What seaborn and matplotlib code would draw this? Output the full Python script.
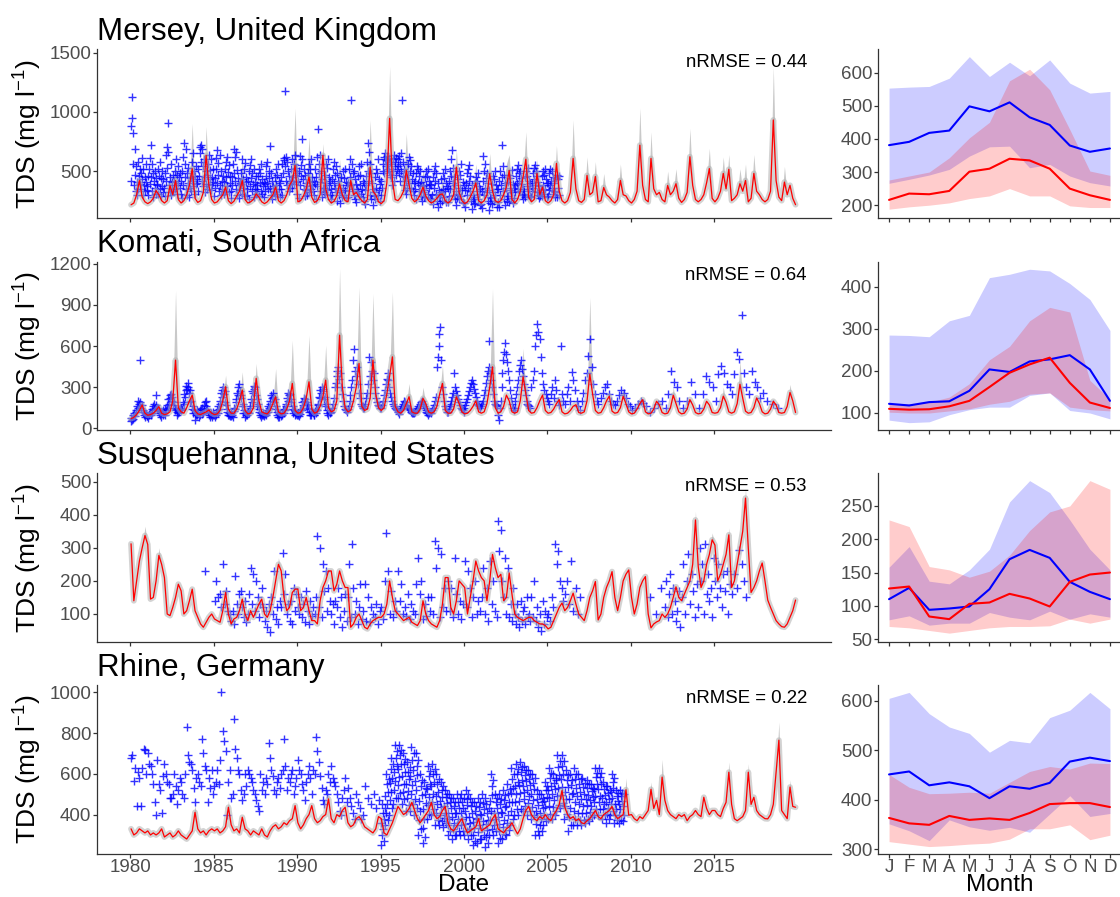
import numpy as np
import pandas as pd
import matplotlib
matplotlib.use("Agg")
import matplotlib.pyplot as plt
import seaborn as sns

sns.set_theme(style="white")
plt.rcParams.update({
    "font.family": ["Liberation Sans", "DejaVu Sans"],
    "mathtext.fontset": "custom",
    "mathtext.rm": "Liberation Sans",
    "mathtext.it": "Liberation Sans:italic",
    "mathtext.bf": "Liberation Sans:bold",
})

# ------------------------------------------------------------------ data
START = 1980
MONTHS = list(range(1, 13))
MONTH_LABELS = ["J", "F", "M", "A", "M", "J", "J", "A", "S", "O", "N", "D"]
YEAR_TICKS = [1980, 1985, 1990, 1995, 2000, 2005, 2010, 2015]

# modelled TDS, one row per year, values for Jan, Mar, May, Jul, Sep, Nov
mersey_model = [
    [215, 230, 300, 420, 280, 240], [225, 240, 270, 335, 300, 250],
    [230, 250, 378, 300, 420, 260], [230, 250, 300, 380, 520, 270],
    [235, 250, 320, 633, 380, 260], [230, 240, 270, 300, 365, 250],
    [225, 245, 290, 330, 420, 260], [230, 240, 260, 307, 280, 240],
    [225, 240, 270, 300, 365, 250], [230, 250, 300, 380, 420, 548],
    [240, 250, 290, 350, 450, 280], [235, 250, 300, 633, 350, 260],
    [230, 245, 290, 392, 300, 250], [240, 420, 300, 320, 280, 250],
    [230, 260, 534, 330, 300, 240], [225, 250, 400, 946, 420, 260],
    [250, 280, 330, 506, 380, 270], [240, 260, 300, 365, 290, 250],
    [230, 245, 270, 300, 307, 250], [230, 250, 300, 534, 320, 250],
    [225, 240, 280, 330, 400, 250], [230, 250, 300, 477, 330, 250],
    [235, 250, 300, 365, 506, 260], [230, 260, 330, 450, 600, 280],
    [240, 260, 480, 300, 365, 250], [230, 250, 300, 565, 330, 250],
    [230, 250, 320, 607, 350, 250], [235, 260, 463, 300, 320, 454],
    [240, 250, 361, 300, 280, 250], [230, 260, 421, 300, 290, 250],
    [230, 260, 330, 719, 380, 260], [240, 607, 350, 300, 320, 260],
    [240, 378, 300, 330, 393, 270], [235, 260, 320, 621, 380, 260],
    [240, 260, 300, 400, 521, 270], [240, 270, 330, 480, 350, 515],
    [250, 270, 300, 393, 330, 420], [240, 270, 480, 330, 300, 260],
    [240, 260, 330, 932, 420, 280], [250, 407, 300, 380, 270, 216],
]
komati_model = [
    [70, 80, 100, 130, 170, 110], [95, 100, 110, 130, 158, 110],
    [100, 105, 120, 200, 497, 150], [120, 110, 150, 200, 242, 130],
    [105, 100, 110, 120, 133, 110], [100, 105, 130, 200, 303, 140],
    [110, 110, 140, 200, 279, 130], [105, 110, 150, 364, 200, 120],
    [110, 105, 130, 180, 230, 120], [105, 110, 140, 200, 327, 130],
    [110, 115, 150, 220, 339, 140], [110, 120, 160, 230, 351, 150],
    [120, 130, 200, 679, 300, 150], [120, 130, 200, 300, 473, 160],
    [130, 140, 220, 497, 250, 150], [130, 150, 250, 380, 521, 160],
    [120, 110, 130, 180, 230, 120], [110, 110, 140, 218, 180, 120],
    [110, 120, 160, 250, 327, 130], [110, 110, 140, 230, 180, 120],
    [105, 110, 130, 160, 200, 120], [110, 120, 180, 300, 448, 150],
    [110, 120, 160, 242, 200, 120], [110, 120, 200, 376, 250, 130],
    [110, 115, 150, 200, 242, 130], [110, 115, 140, 180, 209, 120],
    [105, 110, 130, 160, 172, 115], [110, 120, 200, 395, 250, 130],
    [110, 115, 150, 200, 234, 125], [110, 115, 150, 234, 180, 120],
    [105, 110, 140, 180, 209, 120], [105, 110, 140, 197, 170, 115],
    [105, 110, 150, 241, 180, 120], [105, 110, 140, 209, 170, 115],
    [105, 110, 140, 197, 170, 115], [110, 115, 150, 234, 190, 120],
    [110, 120, 180, 321, 220, 125], [110, 115, 150, 221, 180, 120],
    [105, 110, 140, 197, 170, 115], [110, 115, 160, 261, 200, 115],
]
susq_model = [
    [312, 140, 200, 260, 300, 337], [310, 145, 150, 200, 277, 250],
    [210, 100, 95, 120, 150, 190], [170, 100, 110, 140, 175, 110],
    [90, 70, 60, 75, 90, 100], [85, 80, 75, 110, 165, 100],
    [70, 85, 90, 110, 145, 100], [80, 110, 90, 110, 130, 145],
    [100, 90, 110, 150, 200, 250], [230, 150, 110, 120, 165, 175],
    [175, 110, 120, 150, 110, 80], [80, 70, 140, 180, 200, 230],
    [230, 170, 190, 230, 200, 180], [180, 60, 70, 90, 100, 80],
    [60, 55, 70, 80, 85, 90], [90, 100, 130, 200, 150, 110],
    [100, 90, 80, 85, 90, 75], [70, 65, 80, 140, 100, 80],
    [70, 65, 60, 80, 130, 210], [210, 120, 100, 140, 200, 190],
    [180, 100, 150, 200, 260, 230], [210, 200, 140, 200, 280, 240],
    [210, 220, 140, 150, 224, 160], [100, 90, 85, 80, 85, 90],
    [90, 80, 75, 70, 70, 65], [55, 60, 80, 100, 120, 133],
    [110, 120, 140, 163, 130, 100], [90, 80, 110, 150, 170, 198],
    [82, 100, 150, 180, 200, 228], [150, 110, 150, 200, 220, 233],
    [150, 100, 130, 180, 200, 213], [100, 58, 70, 76, 80, 100],
    [90, 100, 120, 150, 182, 150], [140, 160, 180, 200, 250, 384],
    [243, 180, 200, 250, 280, 324], [308, 200, 220, 250, 280, 339],
    [180, 200, 250, 300, 350, 450], [300, 165, 180, 200, 230, 254],
    [200, 142, 120, 100, 80, 70], [62, 60, 70, 90, 110, 142],
]
rhine_model = [
    [330, 300, 310, 330, 320, 310], [320, 300, 310, 300, 310, 330],
    [290, 300, 310, 290, 300, 320], [300, 290, 280, 300, 320, 411],
    [330, 310, 320, 300, 320, 330], [320, 330, 310, 320, 340, 436],
    [350, 320, 330, 310, 387, 330], [320, 300, 320, 310, 300, 330],
    [300, 290, 320, 340, 350, 330], [340, 360, 350, 370, 380, 444],
    [360, 330, 350, 380, 400, 444], [380, 360, 370, 390, 400, 477],
    [380, 360, 400, 390, 420, 436], [360, 340, 350, 380, 390, 370],
    [340, 330, 320, 310, 330, 390], [380, 310, 300, 330, 360, 400],
    [440, 420, 400, 410, 430, 460], [420, 380, 360, 380, 400, 420],
    [460, 400, 380, 390, 420, 440], [360, 330, 320, 340, 360, 380],
    [340, 310, 320, 330, 340, 380], [320, 330, 340, 350, 380, 400],
    [330, 320, 310, 330, 340, 360], [330, 305, 330, 380, 420, 440],
    [400, 380, 370, 390, 380, 400], [380, 370, 400, 420, 450, 518],
    [436, 400, 380, 390, 370, 380], [360, 355, 370, 380, 400, 420],
    [390, 380, 400, 410, 420, 440], [400, 380, 390, 400, 522, 397],
    [400, 380, 370, 390, 380, 400], [420, 524, 430, 470, 400, 584],
    [470, 420, 400, 390, 380, 400], [390, 400, 370, 390, 400, 420],
    [400, 390, 485, 430, 400, 420], [420, 400, 390, 430, 460, 608],
    [450, 380, 370, 380, 390, 420], [608, 450, 485, 420, 400, 390],
    [380, 379, 400, 450, 608, 765], [420, 400, 380, 535, 440, 436],
]

# ensemble maximum where it departs from the model run: (year, slot, TDS)
mersey_ens_max = [
    (1980, 3, 520), (1982, 2, 500), (1982, 4, 560), (1983, 4, 903), (1984, 3, 875),
    (1985, 4, 480), (1986, 4, 600), (1987, 3, 430), (1988, 4, 500), (1989, 5, 1031),
    (1990, 4, 790), (1991, 3, 733), (1992, 3, 600), (1993, 1, 520), (1994, 2, 932),
    (1995, 3, 1386), (1996, 3, 818), (1997, 3, 520), (1998, 4, 450), (1999, 3, 680),
    (2000, 4, 560), (2001, 3, 650), (2002, 3, 560), (2002, 4, 640), (2003, 4, 832),
    (2004, 2, 600), (2005, 3, 717), (2006, 3, 932), (2007, 2, 620), (2007, 5, 580),
    (2008, 2, 480), (2009, 2, 560), (2010, 3, 1034), (2011, 1, 832), (2012, 1, 500),
    (2012, 4, 520), (2013, 3, 861), (2014, 4, 693), (2015, 3, 620), (2015, 5, 640),
    (2016, 3, 520), (2016, 5, 560), (2017, 2, 640), (2018, 3, 1384), (2019, 1, 540),
]
komati_ens_max = [
    (1982, 4, 1006), (1983, 4, 300), (1985, 4, 388), (1986, 4, 412), (1987, 3, 473),
    (1988, 4, 436), (1989, 4, 642), (1990, 4, 679), (1991, 4, 606), (1992, 3, 1163),
    (1993, 4, 1030), (1994, 3, 982), (1995, 4, 994), (1996, 4, 327), (1997, 3, 300),
    (1998, 4, 460), (1999, 3, 300), (2001, 4, 1018), (2003, 3, 582), (2007, 3, 954),
    (2009, 3, 300), (2012, 3, 300), (2015, 3, 300), (2016, 3, 492), (2019, 3, 320),
]
susq_ens_max = [
    (1980, 5, 365), (1981, 4, 300), (1988, 5, 270), (2013, 5, 410), (2014, 5, 345),
    (2015, 5, 360), (2016, 5, 480),
]
rhine_ens_max = [
    (1983, 5, 450), (1985, 5, 470), (1991, 5, 510), (2009, 4, 580), (2011, 1, 560),
    (2011, 5, 671), (2015, 5, 658), (2017, 0, 650), (2018, 5, 855), (2019, 3, 570),
]

# observed TDS, one row of samples per year
mersey_obs_years = list(range(1980, 2006))
mersey_obs = [
    [420, 880, 1130, 945, 560, 820, 380, 690, 470, 330, 540, 410, 300, 580, 350, 460, 390, 520,
     480, 350, 610, 430, 300, 520, 380, 450, 330, 560, 410, 370],
    [340, 460, 300, 520, 390, 610, 720, 450, 560, 330, 480, 280, 420, 360, 500, 310, 440, 380,
     390, 520, 310, 460, 580, 350, 440, 290, 500, 370, 430, 320],
    [360, 290, 480, 640, 420, 700, 530, 910, 660, 380, 450, 320, 560, 300, 410, 350, 470, 330,
     420, 500, 350, 600, 380, 470, 310, 540, 400, 450, 360, 480],
    [310, 420, 270, 500, 380, 620, 740, 450, 560, 690, 350, 480, 300, 530, 400, 280, 440, 360,
     450, 330, 580, 420, 650, 370, 500, 310, 460, 540, 390, 430],
    [400, 330, 520, 460, 700, 650, 580, 720, 690, 420, 540, 370, 600, 320, 450, 390, 500, 350,
     470, 560, 390, 640, 430, 510, 340, 600, 450, 380, 520, 410],
    [290, 440, 360, 520, 610, 400, 680, 470, 570, 330, 640, 380, 500, 300, 420, 350, 460, 310,
     410, 520, 330, 580, 450, 620, 370, 490, 320, 550, 400, 460],
    [330, 270, 450, 380, 560, 480, 690, 620, 420, 660, 350, 510, 300, 440, 380, 270, 400, 340,
     390, 480, 310, 600, 430, 520, 360, 570, 290, 450, 410, 350],
    [300, 420, 260, 500, 370, 550, 440, 600, 330, 480, 390, 520, 280, 410, 350, 460, 310, 380,
     350, 460, 290, 520, 400, 480, 330, 560, 310, 430, 370, 410],
    [280, 390, 330, 460, 540, 400, 580, 350, 500, 440, 710, 360, 480, 300, 420, 260, 370, 320,
     330, 450, 290, 520, 380, 470, 310, 560, 350, 420, 280, 400],
    [350, 450, 300, 560, 480, 610, 590, 1180, 540, 620, 420, 580, 380, 500, 330, 460, 400, 360,
     420, 520, 360, 600, 450, 560, 390, 640, 470, 530, 410, 480],
    [310, 420, 270, 500, 380, 630, 550, 460, 600, 770, 430, 520, 350, 470, 290, 400, 340, 300,
     370, 480, 320, 560, 410, 520, 350, 600, 380, 450, 330, 420],
    [300, 390, 520, 260, 450, 620, 370, 860, 560, 480, 640, 410, 330, 500, 280, 430, 360, 320,
     360, 470, 310, 560, 400, 530, 340, 600, 380, 450, 300, 420],
    [260, 350, 430, 300, 520, 400, 580, 470, 360, 540, 320, 480, 250, 420, 300, 380, 230, 340,
     320, 450, 280, 500, 360, 440, 300, 520, 340, 410, 270, 380],
    [280, 400, 330, 520, 450, 600, 1100, 380, 560, 480, 350, 500, 300, 430, 260, 390, 240, 350,
     330, 460, 290, 540, 380, 470, 310, 560, 350, 420, 280, 400],
    [250, 340, 220, 460, 380, 580, 500, 740, 660, 420, 560, 300, 480, 260, 400, 210, 350, 290,
     320, 450, 260, 520, 360, 480, 300, 600, 340, 430, 250, 390],
    [300, 420, 360, 500, 560, 620, 480, 650, 600, 540, 590, 630, 520, 560, 610, 500, 580, 470,
     450, 560, 380, 600, 500, 640, 420, 580, 540, 610, 470, 520],
    [540, 600, 480, 630, 560, 420, 650, 500, 1100, 460, 580, 380, 520, 340, 450, 310, 420, 360,
     470, 560, 400, 620, 500, 590, 360, 540, 430, 480, 330, 400],
    [300, 420, 350, 480, 260, 540, 400, 520, 330, 460, 380, 500, 290, 410, 250, 370, 320, 280,
     340, 450, 280, 500, 380, 460, 310, 520, 360, 420, 270, 390],
    [260, 380, 300, 450, 220, 500, 360, 540, 420, 310, 480, 250, 400, 200, 340, 280, 230, 300,
     320, 430, 250, 480, 350, 440, 280, 520, 330, 400, 240, 370],
    [240, 360, 290, 420, 500, 350, 600, 460, 680, 400, 530, 300, 450, 260, 380, 210, 330, 270,
     310, 430, 260, 500, 360, 470, 290, 560, 340, 410, 240, 380],
    [230, 340, 200, 400, 300, 480, 360, 520, 420, 550, 330, 460, 250, 380, 180, 300, 260, 220,
     280, 400, 230, 450, 330, 420, 260, 480, 310, 370, 210, 350],
    [220, 330, 190, 630, 420, 300, 500, 360, 560, 440, 320, 480, 250, 400, 170, 340, 230, 280,
     270, 390, 220, 460, 320, 430, 250, 500, 300, 380, 200, 350],
    [240, 350, 200, 420, 300, 500, 380, 720, 450, 540, 330, 470, 260, 400, 210, 360, 290, 250,
     290, 410, 240, 470, 340, 440, 270, 510, 320, 390, 230, 360],
    [270, 380, 320, 460, 400, 520, 350, 550, 480, 420, 500, 330, 440, 300, 390, 260, 350, 310,
     330, 450, 280, 500, 370, 460, 300, 530, 350, 420, 290, 400],
    [280, 400, 330, 480, 360, 530, 430, 550, 380, 500, 320, 460, 300, 410, 270, 370, 320, 290,
     340, 460, 290, 500, 380, 470, 310, 520, 350, 430, 280, 400],
    [290, 400, 340, 480, 380, 520, 420, 500, 360, 450, 310, 400, 330, 280,
     320, 440, 280, 470, 360, 430, 300, 460],
]
komati_obs_years = list(range(1980, 2019))
komati_obs = [
    [50, 75, 60, 95, 70, 110, 90, 130, 120, 160, 150, 200, 180, 190, 500, 150, 170, 120, 130, 95, 110, 85, 105, 90],
    [90, 75, 105, 95, 120, 100, 140, 115, 160, 130, 180, 150, 240, 170, 140, 150, 110, 125, 95, 110, 80, 120, 100, 130],
    [120, 100, 140, 130, 170, 150, 210, 180, 240, 220, 250, 200, 230, 170, 190, 150, 130, 140, 100, 120, 110, 140, 120, 150],
    [130, 150, 140, 190, 180, 250, 230, 280, 310, 290, 330, 300, 260, 280, 190, 200, 140, 160, 110, 130, 60, 110, 100, 130],
    [100, 120, 85, 130, 95, 140, 105, 150, 115, 170, 130, 190, 200, 160, 140, 120, 100, 115, 85, 110, 95, 80, 120, 100],
    [100, 85, 115, 95, 130, 110, 160, 140, 200, 180, 260, 230, 280, 300, 250, 270, 190, 170, 120, 140, 95, 115, 100, 90],
    [90, 110, 100, 85, 125, 150, 140, 190, 210, 260, 240, 300, 320, 270, 240, 220, 160, 180, 110, 130, 85, 110, 95, 120],
    [100, 120, 115, 160, 150, 210, 190, 270, 260, 310, 290, 300, 240, 210, 160, 180, 120, 140, 95, 110, 80, 100, 115, 95],
    [90, 105, 115, 95, 130, 120, 160, 150, 200, 180, 240, 220, 260, 230, 190, 210, 140, 160, 100, 120, 85, 105, 80, 110],
    [90, 110, 100, 130, 115, 140, 130, 180, 160, 220, 200, 260, 240, 250, 190, 210, 140, 160, 110, 130, 95, 125, 105, 100],
    [100, 115, 90, 130, 105, 140, 130, 190, 170, 220, 200, 210, 180, 190, 150, 170, 120, 140, 100, 120, 95, 125, 110, 100],
    [100, 125, 110, 140, 135, 180, 170, 230, 220, 280, 260, 300, 270, 290, 210, 230, 160, 180, 110, 130, 95, 135, 120, 110],
    [120, 150, 180, 220, 300, 330, 380, 420, 450, 360, 400, 300, 250, 200, 160, 140, 130, 120],
    [140, 160, 200, 240, 300, 350, 500, 580, 420, 380, 450, 320, 260, 220, 180, 160, 160, 150],
    [150, 180, 220, 260, 320, 520, 380, 480, 420, 350, 400, 300, 260, 220, 190, 170, 160, 150],
    [150, 170, 200, 240, 280, 320, 360, 400, 350, 300, 260, 230, 200, 180, 160, 150, 140, 130],
    [120, 105, 130, 150, 140, 160, 180, 200, 190, 170, 160, 150, 140, 130, 120, 110, 120, 110],
    [110, 120, 130, 145, 160, 150, 175, 190, 200, 180, 160, 150, 130, 120, 110, 100, 110, 120],
    [110, 130, 150, 170, 200, 230, 450, 520, 600, 690, 740, 500, 300, 250, 200, 160, 140, 120],
    [120, 140, 160, 180, 200, 230, 260, 400, 300, 270, 240, 210, 190, 170, 150, 140, 130, 120],
    [150, 170, 190, 210, 240, 270, 300, 330, 350, 320, 290, 260, 230, 200, 180, 170, 160, 150],
    [160, 180, 200, 240, 280, 330, 380, 420, 450, 640, 400, 350, 300, 250, 200, 180, 170, 160],
    [100, 60, 150, 200, 300, 400, 500, 560, 620, 540, 480, 420, 350, 280, 220, 180, 150, 130],
    [150, 200, 250, 300, 350, 420, 460, 500, 430, 380, 320, 280, 240, 200, 180, 170, 160, 150],
    [300, 350, 420, 600, 680, 760, 700, 650, 520, 400, 320, 280, 250, 220],
    [200, 180, 250, 300, 220, 350, 280, 200, 170, 600, 250, 200],
    [180, 250, 300, 200, 410, 350, 280, 200, 160, 130],
    [200, 260, 350, 400, 530, 650, 450, 320, 250, 200],
    [180, 220, 260, 300, 320, 250, 200, 180],
    [170, 200, 240, 280, 260, 220, 180, 160],
    [130, 150, 180, 200, 185, 160],
    [120, 150, 180, 200],
    [150, 250, 420, 335, 300, 200],
    [150, 200, 335, 250],
    [150, 250, 382, 335, 300],
    [200, 394, 456, 400, 320, 300],
    [250, 394, 554, 505, 825, 406, 300],
    [250, 420, 335, 298, 224, 260],
    [197, 180, 150],
]
susq_obs_years = list(range(1984, 2007)) + list(range(2011, 2017))
susq_obs = [
    [230],
    [140, 200, 150, 160, 120, 250, 130, 170, 110, 100],
    [80, 110, 70, 215, 130, 100, 160, 170, 120, 90, 140, 75],
    [100, 160, 240, 130, 220, 110, 200, 150, 90, 130, 180, 120],
    [80, 110, 60, 130, 45, 150, 100, 230, 85, 120, 70, 140],
    [120, 285, 160, 220, 100, 130, 80, 140, 70, 180, 110, 160],
    [120, 100, 150, 90, 130, 75, 170, 110, 70, 140, 95, 120],
    [100, 150, 335, 120, 300, 90, 250, 170, 230, 110, 180, 140],
    [100, 130, 70, 140, 120, 180, 90, 150, 60, 110, 160, 80],
    [150, 250, 90, 310, 180, 100, 140, 70, 120, 190, 85, 110],
    [190, 80, 150, 75, 120, 100, 90, 130, 70, 110],
    [120, 85, 200, 345, 230, 100, 170, 90, 140, 110],
    [230, 140, 190, 100, 120, 95, 160, 85, 130, 110],
    [100, 190, 270, 160, 200, 85, 130, 95, 150, 110],
    [150, 100, 320, 240, 300, 90, 280, 120, 180, 110],
    [200, 110, 180, 90, 270, 160, 100, 140, 85, 130],
    [260, 120, 230, 180, 90, 150, 200, 100, 140, 110],
    [150, 240, 100, 180, 80, 260, 130, 200, 110, 90],
    [380, 290, 355, 200, 150, 270, 100, 240, 90, 130, 80, 180],
    [100, 70, 130, 90, 60, 140, 80, 110, 120, 70, 150, 90, 100, 80],
    [150, 90, 200, 80, 120, 60, 100, 50, 140, 70, 110, 90],
    [100, 80, 150, 120, 310, 250, 290, 200, 180, 140],
    [160, 200, 130, 260, 110, 180, 100, 150],
    [150, 100, 180],
    [120, 200, 90, 160, 220, 100, 180, 140, 80, 110, 170, 60],
    [150, 250, 100, 200, 280, 130, 220, 170, 90, 190],
    [120, 300, 200, 250, 100, 310, 160, 220, 140, 180, 90, 270],
    [200, 150, 250, 180, 120, 220, 170, 230, 100, 190],
    [160, 220, 180, 293, 250, 200, 150],
]
rhine_obs_years = list(range(1980, 1995))
rhine_obs = [
    [680, 690, 565, 630, 440, 610, 580, 440, 630, 720, 715, 600],
    [700, 650, 640, 600, 550, 460, 400, 670, 550, 520, 410, 590],
    [650, 600, 560, 550, 480, 480, 500, 600, 540, 450, 520, 580],
    [560, 500, 480, 600, 830, 690, 660, 650, 620, 530, 460, 580],
    [600, 560, 540, 770, 700, 640, 620, 460, 580, 530, 620, 500],
    [540, 560, 620, 550, 670, 1000, 810, 760, 710, 400, 560, 620],
    [480, 500, 870, 720, 680, 620, 600, 520, 470, 500, 600, 540],
    [620, 600, 580, 560, 520, 500, 470, 440, 420, 600, 520, 560],
    [500, 580, 550, 750, 680, 620, 590, 520, 500, 560, 580, 530],
    [600, 620, 770, 640, 520, 580, 560, 600, 620, 500, 540, 580],
    [670, 620, 600, 550, 520, 470, 560, 600, 640, 580, 500, 620],
    [600, 780, 710, 660, 590, 530, 470, 450, 520, 500, 600, 560],
    [640, 580, 560, 540, 500, 460, 420, 400, 480, 520, 580, 460],
    [530, 480, 440, 410, 380, 500, 460, 430, 380, 400],
    [540, 480, 450, 500, 430, 470],
]
# frequent sampling from 1995, 36 samples per year
rhine_daily_years = list(range(1995, 2010))
rhine_daily = [
    [250, 360, 300, 450, 330, 410, 270, 380, 430, 350, 490, 410, 600, 450, 550, 375, 510, 575,
     400, 555, 470, 680, 510, 625, 430, 580, 650, 450, 610, 520, 740, 565, 680, 480, 640, 710],
    [480, 625, 545, 740, 585, 690, 505, 650, 715, 450, 590, 510, 700, 550, 650, 475, 610, 675,
     420, 550, 480, 660, 515, 610, 445, 575, 635, 420, 590, 500, 730, 545, 670, 450, 620, 700],
    [400, 565, 475, 700, 520, 640, 430, 595, 670, 300, 465, 375, 600, 420, 540, 330, 495, 570,
     260, 425, 335, 560, 380, 500, 290, 455, 530, 380, 525, 445, 640, 485, 590, 405, 550, 615],
    [400, 540, 460, 650, 500, 600, 425, 560, 625, 350, 490, 410, 600, 450, 550, 375, 510, 575,
     350, 465, 400, 560, 435, 520, 370, 485, 540, 340, 440, 385, 520, 410, 485, 360, 455, 500],
    [300, 410, 350, 500, 380, 460, 320, 430, 480, 280, 390, 330, 480, 360, 440, 300, 410, 460,
     300, 410, 350, 500, 380, 460, 320, 430, 480, 300, 410, 350, 500, 380, 460, 320, 430, 480],
    [300, 420, 355, 520, 390, 475, 320, 445, 500, 280, 390, 330, 480, 360, 440, 300, 410, 460,
     250, 365, 300, 460, 335, 420, 270, 385, 440, 260, 380, 315, 480, 350, 435, 280, 405, 460],
    [280, 400, 335, 500, 370, 455, 300, 425, 480, 240, 355, 290, 450, 325, 410, 260, 375, 430,
     300, 465, 375, 600, 420, 540, 330, 495, 570, 300, 410, 350, 500, 380, 460, 320, 430, 480],
    [260, 390, 320, 500, 355, 450, 285, 415, 475, 280, 410, 340, 520, 375, 470, 305, 435, 495,
     300, 440, 360, 550, 400, 500, 325, 460, 525, 350, 505, 420, 630, 460, 575, 380, 530, 600],
    [400, 540, 460, 650, 500, 600, 425, 560, 625, 400, 545, 465, 660, 505, 610, 425, 570, 635,
     420, 540, 475, 640, 510, 595, 440, 565, 620, 400, 520, 455, 620, 490, 575, 420, 545, 600],
    [380, 500, 435, 600, 470, 555, 400, 525, 580, 300, 420, 355, 520, 390, 475, 320, 445, 500,
     300, 410, 350, 500, 380, 460, 320, 430, 480, 350, 465, 400, 560, 435, 520, 370, 485, 540],
    [380, 520, 440, 630, 480, 580, 405, 540, 605, 380, 500, 435, 600, 470, 555, 400, 525, 580,
     420, 570, 490, 690, 530, 635, 445, 595, 665, 430, 575, 495, 690, 535, 640, 455, 600, 665],
    [380, 510, 440, 620, 475, 570, 405, 535, 595, 320, 475, 390, 600, 430, 545, 350, 500, 570,
     350, 505, 420, 630, 460, 575, 380, 530, 600, 350, 490, 410, 600, 450, 550, 375, 510, 575],
    [350, 475, 410, 580, 440, 535, 375, 500, 555, 360, 475, 410, 570, 445, 530, 380, 495, 550,
     370, 470, 415, 550, 440, 515, 390, 485, 530, 400, 525, 460, 630, 490, 585, 425, 550, 605],
    [400, 525, 460, 630, 490, 585, 425, 550, 605, 380, 480, 425, 560, 450, 525, 400, 495, 540,
     360, 460, 405, 540, 430, 505, 380, 475, 520, 400, 510, 450, 600, 480, 560, 420, 530, 580],
    [360, 450, 400, 520, 425, 490, 375, 465, 505, 360, 450, 400, 520, 425, 490, 375, 465, 505,
     370, 440, 400, 500],
]

# monthly climatology: observed and modelled median with 5-95 % range
mersey_clim_obs = [381, 391, 418, 425, 498, 483, 510, 465, 442, 380, 361, 371]
mersey_clim_obs_lo = [266, 278, 291, 308, 348, 376, 378, 313, 323, 288, 268, 258]
mersey_clim_obs_hi = [553, 556, 558, 583, 648, 588, 631, 590, 638, 568, 538, 543]
mersey_clim_mod = [216, 235, 233, 243, 301, 310, 340, 335, 310, 250, 230, 216]
mersey_clim_mod_lo = [188, 195, 200, 207, 220, 228, 250, 228, 228, 198, 193, 193]
mersey_clim_mod_hi = [276, 288, 300, 343, 403, 450, 575, 610, 548, 428, 303, 290]

komati_clim_obs = [121, 117, 125, 127, 152, 203, 197, 222, 227, 237, 203, 128]
komati_clim_obs_lo = [82, 76, 78, 95, 107, 113, 113, 141, 147, 105, 99, 85]
komati_clim_obs_hi = [285, 284, 281, 319, 332, 422, 430, 442, 438, 408, 370, 296]
komati_clim_mod = [109, 107, 108, 115, 128, 161, 195, 215, 231, 171, 124, 111]
komati_clim_mod_lo = [101, 99, 99, 104, 109, 120, 127, 144, 147, 113, 107, 104]
komati_clim_mod_hi = [121, 121, 125, 137, 169, 226, 258, 319, 351, 340, 177, 132]

susq_clim_obs = [110, 127, 94, 96, 99, 125, 170, 184, 172, 136, 121, 110]
susq_clim_obs_lo = [79, 85, 71, 74, 74, 90, 83, 79, 92, 80, 88, 83]
susq_clim_obs_hi = [158, 189, 137, 133, 154, 185, 256, 288, 270, 229, 185, 154]
susq_clim_mod = [126, 129, 84, 80, 103, 105, 118, 111, 99, 136, 147, 150]
susq_clim_mod_lo = [69, 67, 63, 59, 63, 67, 69, 69, 70, 80, 74, 80]
susq_clim_mod_hi = [229, 219, 159, 154, 143, 152, 176, 213, 241, 250, 288, 275]

rhine_clim_obs = [451, 457, 429, 435, 427, 403, 427, 422, 434, 477, 485, 478]
rhine_clim_obs_lo = [351, 337, 317, 359, 345, 338, 344, 334, 371, 408, 366, 372]
rhine_clim_obs_hi = [605, 617, 574, 547, 534, 496, 520, 515, 566, 581, 617, 584]
rhine_clim_mod = [363, 352, 349, 367, 359, 362, 359, 373, 391, 393, 393, 385]
rhine_clim_mod_lo = [315, 310, 305, 307, 310, 312, 320, 341, 341, 349, 319, 328]
rhine_clim_mod_hi = [451, 425, 412, 413, 415, 413, 435, 457, 467, 462, 474, 473]

titles = ["Mersey, United Kingdom", "Komati, South Africa",
          "Susquehanna, United States", "Rhine, Germany"]
nrmse = [0.44, 0.64, 0.53, 0.22]


# ------------------------------------------------------------------ helpers
def model_frame(rows):
    t, v = [], []
    for k, row in enumerate(rows):
        for s, val in enumerate(row):
            t.append(START + k + (2 * s + 0.5) / 12)
            v.append(val)
    return pd.DataFrame({"t": t, "tds": v})


def ens_upper(rows, peaks):
    hi = np.array([v for row in rows for v in row], dtype=float)
    for yr, slot, top in peaks:
        hi[(yr - START) * 6 + slot] = top
    return hi


def obs_frame(years, rows, n_min=1):
    t, v = [], []
    for yr, row in zip(years, rows):
        n = max(len(row), n_min)
        for i, val in enumerate(row):
            t.append(yr + (i + 0.5) / n)
            v.append(val)
    return pd.DataFrame({"t": t, "tds": v})


rhine_obs_df = pd.concat([obs_frame(rhine_obs_years, rhine_obs),
                          obs_frame(rhine_daily_years, rhine_daily, 36)])

series = [
    (mersey_model, mersey_ens_max, obs_frame(mersey_obs_years, mersey_obs, 30)),
    (komati_model, komati_ens_max, obs_frame(komati_obs_years, komati_obs)),
    (susq_model, susq_ens_max, obs_frame(susq_obs_years, susq_obs)),
    (rhine_model, rhine_ens_max, rhine_obs_df),
]
climatology = [
    (mersey_clim_obs, mersey_clim_obs_lo, mersey_clim_obs_hi,
     mersey_clim_mod, mersey_clim_mod_lo, mersey_clim_mod_hi),
    (komati_clim_obs, komati_clim_obs_lo, komati_clim_obs_hi,
     komati_clim_mod, komati_clim_mod_lo, komati_clim_mod_hi),
    (susq_clim_obs, susq_clim_obs_lo, susq_clim_obs_hi,
     susq_clim_mod, susq_clim_mod_lo, susq_clim_mod_hi),
    (rhine_clim_obs, rhine_clim_obs_lo, rhine_clim_obs_hi,
     rhine_clim_mod, rhine_clim_mod_lo, rhine_clim_mod_hi),
]

# axis settings per row
ts_ylim = [(105, 1530), (-14, 1215), (16, 525), (209, 1036)]
ts_yticks = [[500, 1000, 1500], [0, 300, 600, 900, 1200],
             [100, 200, 300, 400, 500], [400, 600, 800, 1000]]
cl_ylim = [(162, 670), (58, 460), (46, 299), (291, 632)]
cl_yticks = [[200, 300, 400, 500, 600], [100, 200, 300, 400],
             [50, 100, 150, 200, 250], [300, 400, 500, 600]]

# ------------------------------------------------------------------ figure
W, H, DPI = 1120, 897, 100
fig = plt.figure(figsize=(W / DPI, H / DPI), dpi=DPI)
fig.patch.set_facecolor("white")

ROW_TOP = [49.3, 261.7, 473.3, 685.0]
ROW_H = 168.5
L_X0, L_X1 = 97.0, 831.0
R_X0, R_X1 = 878.0, 1121.0

AX_COL = "#333333"
TICK_COL = "#4D4D4D"
XLAB_Y = -(885.0 - (ROW_TOP[3] + ROW_H)) / ROW_H


def make_axes(x0, x1, top):
    ax = fig.add_axes([x0 / W, 1 - (top + ROW_H) / H, (x1 - x0) / W, ROW_H / H])
    ax.set_facecolor("white")
    sns.despine(ax=ax)
    for side in ("left", "bottom"):
        ax.spines[side].set_color(AX_COL)
        ax.spines[side].set_linewidth(0.9)
    ax.tick_params(axis="both", which="major", direction="out", length=2.6,
                   width=0.9, color=AX_COL, labelcolor=TICK_COL,
                   labelsize=13.5, pad=1.5, left=True, bottom=True)
    ax.grid(False)
    return ax


for r in range(4):
    last = r == 3
    model_rows, peaks, obs = series[r]
    mdf = model_frame(model_rows)
    upper = ens_upper(model_rows, peaks)

    # ---- time series panel
    ax = make_axes(L_X0, L_X1, ROW_TOP[r])
    ax.fill_between(mdf["t"], mdf["tds"], upper, color="#9e9e9e",
                    alpha=0.55, linewidth=0)
    sns.lineplot(data=mdf, x="t", y="tds", ax=ax, color="#b0b0b0",
                 linewidth=4.2, alpha=0.55, estimator=None)
    sns.scatterplot(data=obs, x="t", y="tds", ax=ax, marker="+", color="blue",
                    s=30, linewidth=1.0, alpha=0.8)
    sns.lineplot(data=mdf, x="t", y="tds", ax=ax, color="red",
                 linewidth=0.9, estimator=None)
    ax.set_xlim(1978, 2022)
    ax.set_ylim(*ts_ylim[r])
    ax.set_xticks(YEAR_TICKS)
    ax.set_yticks(ts_yticks[r])
    if last:
        ax.set_xticklabels([str(y) for y in YEAR_TICKS])
        ax.set_xlabel("Date", fontsize=17.5, color="black", va="center")
        ax.xaxis.set_label_coords(0.5, XLAB_Y)
    else:
        ax.set_xticklabels([])
        ax.set_xlabel("")
    ax.set_ylabel(r"TDS (mg l$^{-1}$)", fontsize=19, color="black")
    ax.yaxis.set_label_coords(-0.072, 0.5)
    ax.text(0.0, 1 + 9.5 / ROW_H, titles[r], transform=ax.transAxes,
            ha="left", va="baseline", fontsize=22.5, color="black")
    ax.text(0.967, 1 - 13.4 / ROW_H, f"nRMSE = {nrmse[r]:.2f}",
            transform=ax.transAxes, ha="right", va="center",
            fontsize=13.4, color="black")

    # ---- monthly climatology panel
    o_mid, o_lo, o_hi, m_mid, m_lo, m_hi = climatology[r]
    cx = make_axes(R_X0, R_X1, ROW_TOP[r])
    cx.fill_between(MONTHS, o_lo, o_hi, color="blue", alpha=0.2, linewidth=0)
    sns.lineplot(x=MONTHS, y=o_mid, ax=cx, color="blue", linewidth=1.5)
    cx.fill_between(MONTHS, m_lo, m_hi, color="red", alpha=0.2, linewidth=0)
    sns.lineplot(x=MONTHS, y=m_mid, ax=cx, color="red", linewidth=1.5)
    cx.set_xlim(0.45, 12.55)
    cx.set_ylim(*cl_ylim[r])
    cx.set_xticks(MONTHS)
    cx.set_yticks(cl_yticks[r])
    cx.set_ylabel("")
    if last:
        cx.set_xticklabels(MONTH_LABELS)
        cx.set_xlabel("Month", fontsize=17.5, color="black", va="center")
        cx.xaxis.set_label_coords(0.5, XLAB_Y)
    else:
        cx.set_xticklabels([])
        cx.set_xlabel("")

fig.savefig("out.png", dpi=DPI, facecolor="white")
